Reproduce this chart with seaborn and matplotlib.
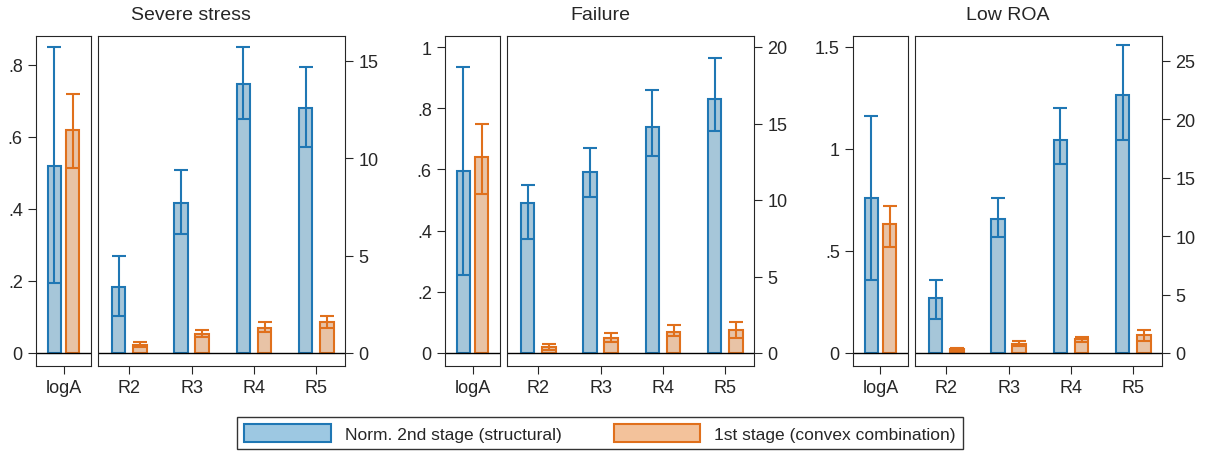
import matplotlib
matplotlib.use("Agg")
import matplotlib.pyplot as plt
import seaborn as sns
import pandas as pd
import numpy as np
from matplotlib.patches import Patch

sns.set_style("ticks")
plt.rcParams["font.family"] = ["Arial", "Liberation Sans", "DejaVu Sans"]

titles = ["Severe stress", "Failure", "Low ROA"]
series = ["Norm. 2nd stage (structural)", "1st stage (convex combination)"]
rcats = ["R2", "R3", "R4", "R5"]

# logA: (value, lo, hi) for structural, convex
loga_val = [[0.52, 0.62], [0.595, 0.64], [0.76, 0.63]]
loga_lo = [[0.195, 0.515], [0.255, 0.52], [0.36, 0.52]]
loga_hi = [[0.85, 0.72], [0.935, 0.75], [1.16, 0.72]]

r_struct = [[3.4, 7.7, 13.8, 12.6], [9.8, 11.8, 14.8, 16.6], [4.7, 11.5, 18.2, 22.1]]
r_struct_lo = [[1.9, 6.1, 12.0, 10.6], [7.45, 10.2, 12.9, 14.5], [2.9, 9.9, 16.2, 18.2]]
r_struct_hi = [[5.0, 9.4, 15.7, 14.7], [11.0, 13.4, 17.2, 19.3], [6.25, 13.3, 21.0, 26.4]]
r_conv = [[0.4, 1.0, 1.3, 1.6], [0.4, 1.0, 1.4, 1.5], [0.3, 0.8, 1.2, 1.5]]
r_conv_lo = [[0.3, 0.8, 1.1, 1.3], [0.2, 0.7, 1.1, 1.0], [0.15, 0.6, 0.9, 1.0]]
r_conv_hi = [[0.55, 1.2, 1.6, 1.9], [0.6, 1.3, 1.8, 2.0], [0.4, 1.0, 1.4, 2.0]]

left_ticks = [[0, 0.2, 0.4, 0.6, 0.8], [0, 0.2, 0.4, 0.6, 0.8, 1], [0, 0.5, 1, 1.5]]
left_labels = [["0", ".2", ".4", ".6", ".8"], ["0", ".2", ".4", ".6", ".8", "1"], ["0", ".5", "1", "1.5"]]
right_ticks = [[0, 5, 10, 15], [0, 5, 10, 15, 20], [0, 5, 10, 15, 20, 25]]

fills = ["#9dc8e2", "#f3c29b"]
edges = ["#1f77b4", "#e0701c"]

W, H = 1206, 456
fig = plt.figure(figsize=(W / 100, H / 100), dpi=100)
lefts = [36, 445, 853]
top, bot = 37, 367

def px_axes(x0, x1):
    return fig.add_axes([x0 / W, 1 - bot / H, (x1 - x0) / W, (bot - top) / H])

def draw(ax, cats, vals, los, his, width, gap):
    df = pd.DataFrame({"cat": cats * 2, "val": vals[0] + vals[1],
                       "s": [series[0]] * len(cats) + [series[1]] * len(cats)})
    sns.barplot(data=df, x="cat", y="val", hue="s", hue_order=series, palette=fills,
                width=width, gap=gap, ax=ax, legend=False, errorbar=None,
                linewidth=1.5)
    for p in ax.patches:
        c = p.get_facecolor()
        idx = 0 if abs(c[0] - matplotlib.colors.to_rgb(fills[0])[0]) < 0.05 else 1
        p.set_edgecolor(edges[idx])
    x = np.arange(len(cats))
    for k, off in enumerate([-width / 4, width / 4]):
        v = np.array(vals[k]); lo = np.array(los[k]); hi = np.array(his[k])
        ax.errorbar(x + off, v, yerr=[v - lo, hi - v], fmt="none", ecolor=edges[k],
                    elinewidth=1.5, capsize=5, capthick=1.5)
    ax.axhline(0, color="black", lw=1)
    ax.set_xlabel(""); ax.set_ylabel("")
    ax.tick_params(labelsize=13, length=6)

for i in range(3):
    x0 = lefts[i]
    axl = px_axes(x0, x0 + 55)
    draw(axl, ["logA"], [[loga_val[i][0]], [loga_val[i][1]]],
         [[loga_lo[i][0]], [loga_lo[i][1]]], [[loga_hi[i][0]], [loga_hi[i][1]]],
         0.58, 0.25)
    axl.set_xlim(-0.44, 0.44)
    lt = left_ticks[i]
    top_px = [66, 48, 48][i]
    per = (354 - top_px) / lt[-1]
    axl.set_ylim(-(367 - 354) / per, (354 - 37) / per)
    axl.set_yticks(lt, left_labels[i])

    axr = px_axes(x0 + 62, x0 + 309)
    draw(axr, rcats, [r_struct[i], r_conv[i]], [r_struct_lo[i], r_conv_lo[i]],
         [r_struct_hi[i], r_conv_hi[i]], 0.68, 0.36)
    axr.set_xlim(-0.5, 3.46)
    rt = right_ticks[i]
    rtop = [62, 48, 62][i]
    per = (354 - rtop) / rt[-1]
    axr.set_ylim(-(367 - 354) / per, (354 - 37) / per)
    axr.set_yticks(rt)
    axr.yaxis.tick_right()
    fig.text((x0 + 155) / W, 1 - 16 / H, titles[i], ha="center", va="center", fontsize=14)

handles = [Patch(facecolor=fills[k], edgecolor=edges[k], linewidth=1.5, label=series[k])
           for k in range(2)]
fig.legend(handles=handles, loc="center", bbox_to_anchor=(600 / W, 1 - 434 / H), ncol=2,
           fontsize=12.5, frameon=True, fancybox=False, edgecolor="black",
           handlelength=5, handleheight=1.2, columnspacing=3)
fig.savefig("out.png", dpi=100)
